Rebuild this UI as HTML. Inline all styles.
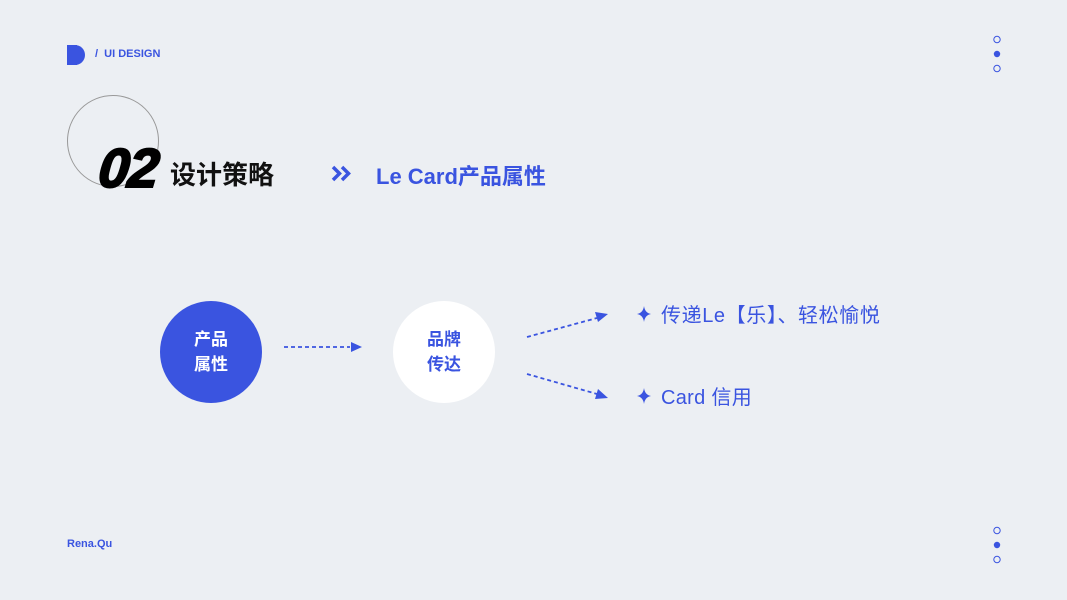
<!DOCTYPE html>
<html><head><meta charset="utf-8"><style>
body{margin:0;width:1067px;height:600px;background:#eceff3;position:relative;overflow:hidden;font-family:"Liberation Sans","Noto Sans CJK SC",sans-serif}
.a{position:absolute;white-space:nowrap}
</style></head><body>
<div class="a" style="left:67px;top:45px;width:10px;height:20px;background:#3a54e0"></div>
<div class="a" style="left:67px;top:45px;width:18px;height:20px;background:#3a54e0;border-radius:0 10px 10px 0"></div>
<div class="a" style="left:95px;top:48px;font-size:11px;font-weight:bold;color:#3a54e0">/&nbsp;&nbsp;UI DESIGN</div>
<div class="a" style="left:67px;top:95px;width:90px;height:90px;border:1px solid #999;border-radius:50%"></div>
<div class="a" style="left:99px;top:136px;font-size:55px;font-weight:900;font-style:italic;color:#000;letter-spacing:-1px;-webkit-text-stroke:2px #000;font-family:'Liberation Sans',sans-serif;transform:skewX(-6deg)">02</div>
<div class="a" style="left:170px;top:155px;font-size:26px;font-weight:bold;color:#111">设计策略</div>
<svg class="a" style="left:331px;top:165px" width="24" height="18"><path d="M2 2l6.5 6.5-6.5 6.5M11 2l6.5 6.5-6.5 6.5" fill="none" stroke="#3a54e0" stroke-width="3.5"/></svg>
<div class="a" style="left:376px;top:159px;font-size:22px;font-weight:bold;color:#3a54e0">Le Card产品属性</div>
<svg class="a" style="left:990px;top:32px" width="16" height="46"><circle cx="7" cy="7.5" r="3.2" fill="none" stroke="#3a54e0"/><circle cx="7" cy="22" r="3.2" fill="#3a54e0"/><circle cx="7" cy="36.5" r="3.2" fill="none" stroke="#3a54e0"/></svg>
<svg class="a" style="left:990px;top:523px" width="16" height="46"><circle cx="7" cy="7.5" r="3.2" fill="none" stroke="#3a54e0"/><circle cx="7" cy="22" r="3.2" fill="#3a54e0"/><circle cx="7" cy="36.5" r="3.2" fill="none" stroke="#3a54e0"/></svg>
<div class="a" style="left:67px;top:538px;font-size:11px;font-weight:bold;color:#3a54e0">Rena.Qu</div>
<div class="a" style="left:160px;top:301px;width:102px;height:102px;border-radius:50%;background:#3a54e0;color:#fff;font-size:17px;font-weight:bold;text-align:center;line-height:25px;display:flex;align-items:center;justify-content:center">产品<br>属性</div>
<div class="a" style="left:393px;top:301px;width:102px;height:102px;border-radius:50%;background:#fff;color:#3a54e0;font-size:17px;font-weight:bold;text-align:center;line-height:25px;display:flex;align-items:center;justify-content:center">品牌<br>传达</div>
<svg class="a" style="left:0;top:0" width="1067" height="600">
<g stroke="#3a54e0" stroke-width="1.8" stroke-dasharray="4 3" fill="none">
<line x1="284" y1="347" x2="350" y2="347"/>
<line x1="527" y1="337" x2="597" y2="318"/>
<line x1="527" y1="374" x2="597" y2="394"/>
</g>
<g fill="#3a54e0">
<path d="M351 342L362 347L351 352Z"/>
<path d="M595 312L608 314L598 322Z"/>
<path d="M598 389L608 398L595 399Z"/>
<path d="M644 306Q645 313 651 314Q645 315 644 322Q643 315 637 314Q643 313 644 306Z"/>
<path d="M644 388Q645 395 651 396Q645 397 644 404Q643 397 637 396Q643 395 644 388Z"/>
</g>
</svg>
<div class="a" style="left:661px;top:299px;font-size:20px;letter-spacing:0.6px;color:#3a54e0">传递Le【乐】、轻松愉悦</div>
<div class="a" style="left:661px;top:381px;font-size:20px;letter-spacing:0.3px;color:#3a54e0">Card 信用</div>
</body></html>
